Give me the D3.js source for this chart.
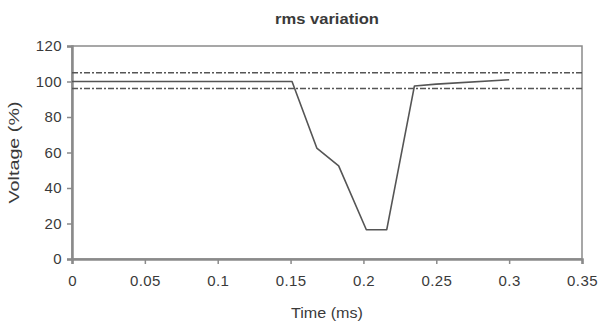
<!DOCTYPE html>
<html>
<head>
<meta charset="utf-8">
<script src="https://cdn.jsdelivr.net/npm/d3@7"></script>
<style>
  body { margin: 0; background: #fff; }
  svg text { font-family: "Liberation Sans", Arial, sans-serif; fill: #3a3a3a; }
</style>
</head>
<body>
<div id="chart"></div>
<script>
// rms voltage trace (time in ms, voltage in %)
const timeValues = [0, 0.151, 0.168, 0.183, 0.202, 0.216, 0.235, 0.25, 0.3];
const voltageValues = [100, 100, 62.5, 52.5, 16.5, 16.5, 97.5, 98.5, 101];

// tolerance band lines
const limitValues = [105, 96];

const xTicks = [0, 0.05, 0.1, 0.15, 0.2, 0.25, 0.3, 0.35];
const yTicks = [0, 20, 40, 60, 80, 100, 120];

const width = 600, height = 326;
const margin = {top: 46, right: 18, bottom: 67, left: 72};
const axisColor = '#8a8a8a';

const svg = d3.select('#chart').append('svg')
    .attr('width', width)
    .attr('height', height);

const xScale = d3.scaleLinear()
    .domain([0, 0.35])
    .range([margin.left, width - margin.right]);

const yScale = d3.scaleLinear()
    .domain([0, 120])
    .range([height - margin.bottom, margin.top]);

// frame on top and right
svg.append('rect')
    .attr('x', xScale(0))
    .attr('y', yScale(120))
    .attr('width', xScale(0.35) - xScale(0))
    .attr('height', yScale(0) - yScale(120))
    .attr('fill', 'none')
    .attr('stroke', axisColor)
    .attr('stroke-width', 1.5);

const xAxis = svg.append('g')
    .attr('transform', 'translate(0,' + yScale(0) + ')')
    .call(d3.axisBottom(xScale).tickValues(xTicks).tickFormat(d => String(d)).tickSize(5).tickPadding(11));

const yAxis = svg.append('g')
    .attr('transform', 'translate(' + xScale(0) + ',0)')
    .call(d3.axisLeft(yScale).tickValues(yTicks).tickSize(5).tickPadding(5));

[xAxis, yAxis].forEach(ax => {
    ax.select('.domain').attr('stroke', axisColor).attr('stroke-width', 2.5);
    ax.selectAll('.tick line').attr('stroke', axisColor).attr('stroke-width', 1.5);
    ax.selectAll('.tick text').attr('font-size', 15).attr('fill', '#3a3a3a')
        .attr('letter-spacing', '0.4px')
        .attr('font-family', '"Liberation Sans", Arial, sans-serif');
});

// dash-dot limit lines
svg.selectAll('.limit')
    .data(limitValues)
    .enter()
    .append('line')
    .attr('class', 'limit')
    .attr('x1', xScale(0))
    .attr('x2', xScale(0.35))
    .attr('y1', d => yScale(d))
    .attr('y2', d => yScale(d))
    .attr('stroke', '#555')
    .attr('stroke-width', 1.5)
    .attr('stroke-dasharray', '6,2,2,2');

const line = d3.line()
    .x((d, i) => xScale(timeValues[i]))
    .y(d => yScale(d));

svg.append('path')
    .datum(voltageValues)
    .attr('fill', 'none')
    .attr('stroke', '#555')
    .attr('stroke-width', 1.6)
    .attr('stroke-linejoin', 'round')
    .attr('d', line);

// titles
svg.append('text')
    .attr('x', (xScale(0) + xScale(0.35)) / 2)
    .attr('y', 24)
    .attr('text-anchor', 'middle')
    .attr('font-size', 15)
    .attr('font-weight', 'bold')
    .attr('textLength', 104)
    .attr('lengthAdjust', 'spacingAndGlyphs')
    .text('rms variation');

svg.append('text')
    .attr('x', (xScale(0) + xScale(0.35)) / 2)
    .attr('y', 318)
    .attr('text-anchor', 'middle')
    .attr('font-size', 15)
    .attr('textLength', 72)
    .attr('lengthAdjust', 'spacingAndGlyphs')
    .text('Time (ms)');

svg.append('text')
    .attr('transform', 'translate(19,' + (yScale(60)) + ') rotate(-90)')
    .attr('text-anchor', 'middle')
    .attr('font-size', 15)
    .attr('textLength', 102)
    .attr('lengthAdjust', 'spacingAndGlyphs')
    .text('Voltage (%)');
</script>
</body>
</html>
